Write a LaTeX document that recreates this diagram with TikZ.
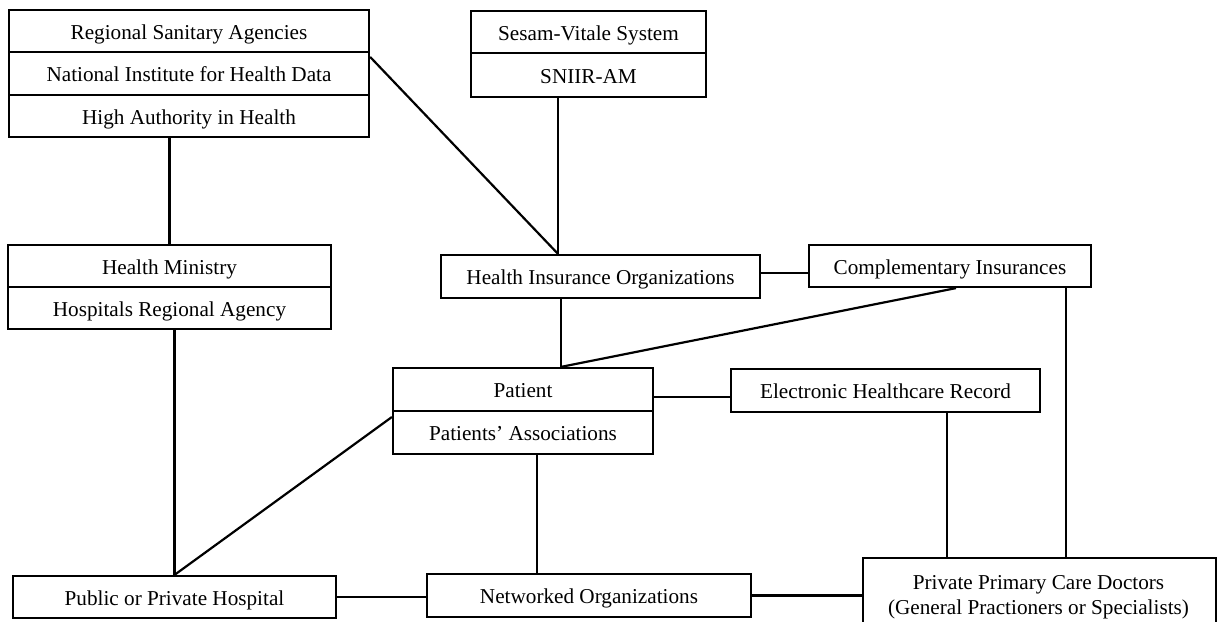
\documentclass[tikz,border=0pt]{standalone}
\usepackage{fontspec}
\setmainfont{Liberation Serif}
\usetikzlibrary{calc}
\begin{document}
\begin{tikzpicture}[x=1pt,y=-1pt,
  box/.style={draw, line width=2.2pt, inner sep=0pt, text height=16pt, text depth=0pt, font=\fontsize{21.2}{25}\selectfont},
  txt/.style={inner sep=0pt, align=center, font=\fontsize{21.2}{25}\selectfont},
  link/.style={line width=2.2pt}]
\useasboundingbox (0,0) rectangle (1217,621);
% top-left stack
\node[box, minimum width=360pt, minimum height=42pt] (rsa) at (189,31) {Regional Sanitary Agencies};
\node[box, minimum width=360pt, minimum height=43pt] (nihd) at (189,73.5) {National Institute for Health Data};
\node[box, minimum width=360pt, minimum height=42pt] (hah) at (189,116) {High Authority in Health};
% Sesam stack
\node[box, minimum width=235pt, minimum height=42pt] (sesam) at (588.5,32) {Sesam-Vitale System};
\node[box, minimum width=235pt, minimum height=44pt] (sniir) at (588.5,75) {SNIIR-AM};
% Health ministry stack
\node[box, minimum width=323pt, minimum height=42pt] (hm) at (169.5,266) {Health Ministry};
\node[box, minimum width=323pt, minimum height=42pt] (hra) at (169.5,308) {Hospitals Regional Agency};
% middle
\node[box, minimum width=319pt, minimum height=43pt] (hio) at (600.5,276.5) {Health Insurance Organizations};
\node[box, minimum width=282pt, minimum height=42pt] (comp) at (950,266) {Complementary Insurances};
\node[box, minimum width=260pt, minimum height=43pt] (pat) at (523,389.5) {Patient};
\node[box, minimum width=260pt, minimum height=43pt] (passoc) at (523,432.5) {Patients' Associations};
\node[box, minimum width=309pt, minimum height=43pt] (ehr) at (885.5,390.5) {Electronic Healthcare Record};
% bottom
\node[box, minimum width=323pt, minimum height=42pt] (pub) at (174.5,597) {Public or Private Hospital};
\node[box, minimum width=324pt, minimum height=43pt] (net) at (589,595.5) {Networked Organizations};
\node[box, minimum width=353pt, minimum height=90pt, anchor=north west] (ppcd) at (862,557) {};
\node[txt] (ppcdt) at (1038.5,597) {Private Primary Care Doctors\\(General Practioners or Specialists)};
% connectors
\coordinate (j1) at ($(hio.north)+(-42.5,0)$);
\coordinate (n1) at ($(nihd.north east)+(0,6)$);
\draw[link] (n1) -- (j1);
\draw[link] (sniir.south -| j1) -- (j1);
\draw[link] (hah.south -| hm.north) -- (hm.north);
\coordinate (h1) at ($(hio.east)+(0,-3.5)$);
\draw[link] (h1) -- (h1 -| comp.west);
\coordinate (j2) at ($(pat.north)+(38,0)$);
\draw[link] (j2 |- hio.south) -- (j2);
\coordinate (c1) at ($(comp.south)+(6,0)$);
\draw[link] (c1) -- (j2);
\coordinate (c2) at ($(comp.south)+(116,0)$);
\draw[link] (c2) -- (c2 |- ppcd.north);
\coordinate (p1) at ($(pat.east)+(0,7.5)$);
\draw[link] (p1) -- (p1 -| ehr.west);
\coordinate (e1) at ($(ehr.south)+(61.5,0)$);
\draw[link] (e1) -- (e1 |- ppcd.north);
\coordinate (a1) at ($(passoc.south)+(14,0)$);
\draw[link] (a1) -- (a1 |- net.north);
\coordinate (a2) at ($(passoc.west)+(0,-15.5)$);
\draw[link] (a2) -- (pub.north);
\draw[link] (pub.north |- hra.south) -- (pub.north);
\draw[link] (pub.east) -- (pub.east -| net.west);
\draw[link] (net.east) -- (net.east -| ppcd.west);
\end{tikzpicture}
\end{document}
